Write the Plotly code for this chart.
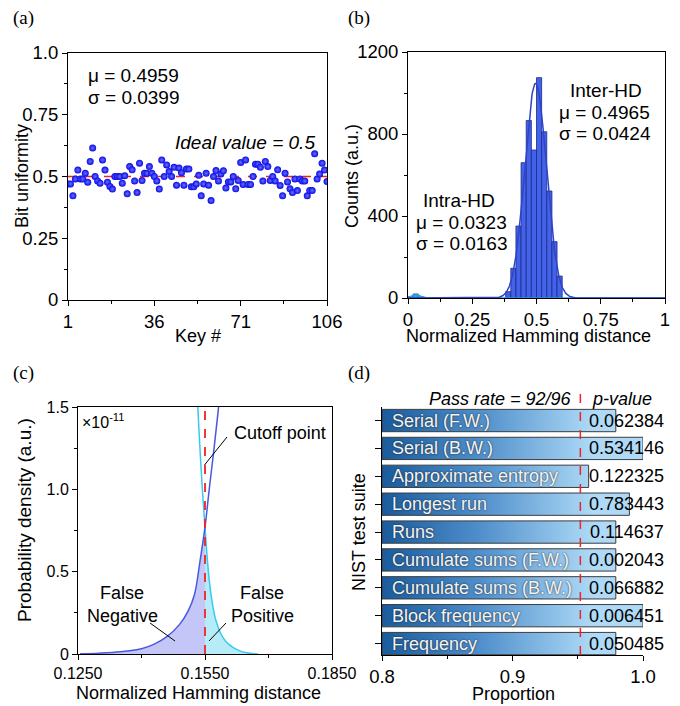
import numpy as np
import plotly.graph_objects as go

FONT = "Liberation Sans, Arial, sans-serif"
SERIF = "Liberation Serif, Times New Roman, serif"
W, H = 680, 706

# ---------------- (a) bit uniformity of each key ----------------
keys = list(range(1, 107))
bit_uniformity = [
    0.470, 0.470, 0.422, 0.490, 0.526, 0.490, 0.490, 0.513, 0.477, 0.561,
    0.615, 0.500, 0.482, 0.473, 0.567, 0.526, 0.477, 0.460, 0.449, 0.500,
    0.500, 0.500, 0.473, 0.503, 0.430, 0.540, 0.527, 0.482, 0.435, 0.554,
    0.484, 0.513, 0.513, 0.540, 0.513, 0.500, 0.482, 0.449, 0.567, 0.500,
    0.547, 0.520, 0.500, 0.537, 0.465, 0.534, 0.515, 0.465, 0.530, 0.530,
    0.458, 0.458, 0.470, 0.505, 0.422, 0.470, 0.513, 0.465, 0.403, 0.500,
    0.524, 0.482, 0.510, 0.523, 0.453, 0.478, 0.478, 0.500, 0.450, 0.484,
    0.557, 0.468, 0.567, 0.468, 0.468, 0.500, 0.550, 0.550, 0.537, 0.482,
    0.561, 0.540, 0.484, 0.500, 0.482, 0.527, 0.464, 0.422, 0.513, 0.478,
    0.450, 0.435, 0.490, 0.443, 0.490, 0.482, 0.482, 0.422, 0.443, 0.443,
    0.592, 0.490, 0.510, 0.554, 0.526, 0.480,
]
ideal_value = 0.5
bu_mean, bu_std = 0.4959, 0.0399
key_ticks = [1, 36, 71, 106]

# ---------------- (b) Hamming distance histograms ----------------
bin_width = 0.02
inter_bin_left = [0.38, 0.40, 0.42, 0.44, 0.46, 0.48, 0.50, 0.52, 0.54, 0.56, 0.58]
inter_counts = [31, 145, 351, 660, 866, 722, 1075, 811, 522, 275, 107]
intra_bin_left = [0.00, 0.02, 0.04]
intra_counts = [7, 20, 6]
inter_mu, inter_sigma = 0.4965, 0.0424
intra_mu, intra_sigma = 0.0323, 0.0163

# ---------------- (c) overlap of the two distributions ----------------
inter_tail_x = [0.1255, 0.1300, 0.1350, 0.1400, 0.1430, 0.1460, 0.1490, 0.1510,
                0.1525, 0.1538, 0.1550, 0.1560, 0.1571, 0.1583, 0.1592]
inter_tail_y = [0.002, 0.005, 0.013, 0.032, 0.060, 0.105, 0.180, 0.260,
                0.360, 0.560, 0.770, 1.000, 1.240, 1.520, 1.720]
intra_tail_x = [0.1528, 0.1533, 0.1540, 0.1545, 0.1550, 0.1555, 0.1560, 0.1566,
                0.1575, 0.1588, 0.1600, 0.1617, 0.1635, 0.1656, 0.1675]
intra_tail_y = [1.80, 1.50, 1.16, 0.95, 0.77, 0.59, 0.45, 0.33,
                0.21, 0.12, 0.075, 0.038, 0.016, 0.004, 0.0]
cutoff = 0.1550

# ---------------- (d) NIST SP800-22 results ----------------
nist_tests = ["Serial (F.W.)", "Serial (B.W.)", "Approximate entropy", "Longest run",
              "Runs", "Cumulate sums (F.W.)", "Cumulate sums (B.W.)",
              "Block frequency", "Frequency"]
nist_passed = [94, 96, 92, 95, 94, 94, 94, 96, 94]
n_sequences = 96
nist_pvalues = ["0.062384", "0.534146", "0.122325", "0.783443", "0.114637",
                "0.002043", "0.066882", "0.006451", "0.050485"]
pass_threshold = 0.952


def px(x):
    return x / W


def py(y):
    return 1 - y / H


fig = go.Figure()

# ---- (a)
fig.add_trace(go.Scatter(
    x=keys, y=bit_uniformity, mode="markers", xaxis="x", yaxis="y",
    marker=dict(size=7, color="#0a0ae6",
                gradient=dict(type="radial", color="#6a70ff"),
                line=dict(width=0)),
    showlegend=False, hoverinfo="skip"))

# ---- (b)
inter_centers = [b + bin_width / 2 for b in inter_bin_left]
intra_centers = [b + bin_width / 2 for b in intra_bin_left]
fig.add_trace(go.Bar(
    x=inter_centers, y=inter_counts, width=bin_width, xaxis="x2", yaxis="y2",
    marker=dict(color="#4262ea", line=dict(color="#1d2a86", width=0.8)),
    showlegend=False, hoverinfo="skip"))
fig.add_trace(go.Bar(
    x=intra_centers, y=intra_counts, width=bin_width, xaxis="x2", yaxis="y2",
    marker=dict(color="#2fa6dc", line=dict(color="#2a5fb0", width=0.8)),
    showlegend=False, hoverinfo="skip"))

hd = np.linspace(0, 1, 801)
inter_area = sum(inter_counts) * bin_width
intra_area = sum(intra_counts) * bin_width
inter_fit = inter_area / (inter_sigma * np.sqrt(2 * np.pi)) * np.exp(-0.5 * ((hd - inter_mu) / inter_sigma) ** 2)
intra_fit = intra_area / (intra_sigma * np.sqrt(2 * np.pi)) * np.exp(-0.5 * ((hd - intra_mu) / intra_sigma) ** 2)
fig.add_trace(go.Scatter(x=hd, y=intra_fit, mode="lines", xaxis="x2", yaxis="y2",
                         line=dict(color="#2aa0d8", width=1.5),
                         showlegend=False, hoverinfo="skip"))
fig.add_trace(go.Scatter(x=hd, y=inter_fit, mode="lines", xaxis="x2", yaxis="y2",
                         line=dict(color="#2f44c8", width=1.5),
                         showlegend=False, hoverinfo="skip"))

# ---- (c)
fn_x = [x for x in inter_tail_x if x <= cutoff]
fn_y = [y for x, y in zip(inter_tail_x, inter_tail_y) if x <= cutoff]
fp_x = [x for x in intra_tail_x if x >= cutoff]
fp_y = [y for x, y in zip(intra_tail_x, intra_tail_y) if x >= cutoff]
fig.add_trace(go.Scatter(x=fn_x, y=fn_y, mode="lines", xaxis="x3", yaxis="y3",
                         line=dict(width=0, shape="spline"), fill="tozeroy",
                         fillcolor="#c3c6f6", showlegend=False, hoverinfo="skip"))
fig.add_trace(go.Scatter(x=fp_x, y=fp_y, mode="lines", xaxis="x3", yaxis="y3",
                         line=dict(width=0, shape="spline"), fill="tozeroy",
                         fillcolor="#b6ebf8", showlegend=False, hoverinfo="skip"))
fig.add_trace(go.Scatter(x=intra_tail_x, y=intra_tail_y, mode="lines", xaxis="x3", yaxis="y3",
                         line=dict(color="#3cc8ee", width=1.5, shape="spline"),
                         showlegend=False, hoverinfo="skip"))
fig.add_trace(go.Scatter(x=inter_tail_x, y=inter_tail_y, mode="lines", xaxis="x3", yaxis="y3",
                         line=dict(color="#4a58e0", width=1.5, shape="spline"),
                         showlegend=False, hoverinfo="skip"))

# ---- (d) gradient bars
n_tests = len(nist_tests)
half = 0.40
for i, (name, passed) in enumerate(zip(nist_tests, nist_passed)):
    yc = n_tests - 1 - i
    prop = passed / n_sequences
    fig.add_trace(go.Scatter(
        x=[0.8, prop, prop, 0.8, 0.8],
        y=[yc - half, yc - half, yc + half, yc + half, yc - half],
        mode="lines", xaxis="x4", yaxis="y4", fill="toself",
        fillgradient=dict(type="horizontal", start=0.8, stop=0.962,
                          colorscale=[[0, "#1a5b9c"], [0.45, "#4d8dca"], [1, "#aedaf7"]]),
        line=dict(color="#3c3c3c", width=1),
        showlegend=False, hoverinfo="skip"))

tickfont = dict(family=FONT, size=18.5, color="black")


def axis(domain, anchor, **kw):
    d = dict(domain=domain, anchor=anchor, showline=True, linecolor="black", linewidth=1,
             ticks="outside", ticklen=5, tickwidth=1, tickcolor="black",
             showgrid=False, zeroline=False, tickfont=tickfont, mirror=True,
             automargin=False)
    d.update(kw)
    return d


def minor(tick0, dtick):
    return dict(ticks="outside", ticklen=3, tickwidth=1, tickcolor="black",
                tick0=tick0, dtick=dtick, showgrid=False)


fig.update_layout(
    width=W, height=H, margin=dict(l=0, r=0, t=0, b=0, autoexpand=False),
    paper_bgcolor="white", plot_bgcolor="white", barmode="overlay",
    font=dict(family=FONT, size=18, color="black"),
    xaxis=axis([px(68), px(327)], "y", range=[1, 106], tickvals=key_ticks,
               minor=minor(1, 17.5)),
    yaxis=axis([py(300), py(53)], "x", range=[0, 1],
               tickvals=[0, 0.25, 0.5, 0.75, 1.0],
               ticktext=["0", "0.25", "0.5", "0.75", "1.0"], minor=minor(0, 0.125)),
    xaxis2=axis([px(408), px(665)], "y2", range=[0, 1],
                tickvals=[0, 0.25, 0.5, 0.75, 1],
                ticktext=["0", "0.25", "0.5", "0.75", "1"], minor=minor(0, 0.125)),
    yaxis2=axis([py(298), py(52)], "x2", range=[0, 1200],
                tickvals=[0, 400, 800, 1200], minor=minor(0, 200)),
    xaxis3=axis([px(78), px(332)], "y3", range=[0.125, 0.185],
                tickvals=[0.125, 0.155, 0.185],
                ticktext=["0.1250", "0.1550", "0.1850"],
                tickfont=dict(family=FONT, size=16, color="black"),
                minor=minor(0.125, 0.015)),
    yaxis3=axis([py(654), py(407)], "x3", range=[0, 1.5],
                tickvals=[0, 0.5, 1.0, 1.5], ticktext=["0", "0.5", "1.0", "1.5"],
                tickfont=dict(family=FONT, size=16, color="black"),
                minor=minor(0, 0.25)),
    xaxis4=axis([px(382), px(643)], "y4", range=[0.8, 1.0],
                tickvals=[0.8, 0.9, 1.0], ticktext=["0.8", "0.9", "1.0"],
                minor=minor(0.8, 0.05), mirror=False),
    yaxis4=axis([py(655), py(406.6)], "x4", range=[-0.41, 8.5],
                tickvals=list(range(n_tests)), showticklabels=False,
                ticklen=6, mirror=False),
)

red = "#ee2424"
shapes = [
    dict(type="line", xref="x domain", yref="y", x0=0, x1=1, y0=ideal_value, y1=ideal_value,
         line=dict(color=red, width=1.5, dash="dash"), layer="below"),
    dict(type="line", xref="x3", yref="y3", x0=cutoff, x1=cutoff, y0=0, y1=1.5,
         line=dict(color=red, width=1.8, dash="dash")),
    dict(type="line", xref="x4", yref="paper", x0=pass_threshold, x1=pass_threshold,
         y0=py(655), y1=py(387),
         line=dict(color=red, width=1.5, dash="dash")),
    # pointer lines in (c)
    dict(type="line", xref="paper", yref="paper", x0=px(204.5), y0=py(465), x1=px(227), y1=py(437),
         line=dict(color="black", width=1)),
    dict(type="line", xref="paper", yref="paper", x0=px(150), y0=py(623), x1=px(175), y1=py(641),
         line=dict(color="black", width=1)),
    dict(type="line", xref="paper", yref="paper", x0=px(209), y0=py(641), x1=px(226), y1=py(623),
         line=dict(color="black", width=1)),
]
fig.update_layout(shapes=shapes)

ann = []


def text(x, y, s, size=18, xanchor="center", angle=0, italic=False, family=FONT, color="black",
         xref="paper", yref="paper", shadow=None):
    f = dict(family=family, size=size, color=color)
    if italic:
        f["style"] = "italic"
    if shadow:
        f["shadow"] = shadow
    ann.append(dict(x=x, y=y, xref=xref, yref=yref, text=s, showarrow=False,
                    xanchor=xanchor, yanchor="middle", textangle=angle, font=f))


# panel letters
text(px(23), py(18), "(a)", size=19, family=SERIF)
text(px(359), py(18), "(b)", size=19, family=SERIF)
text(px(23), py(373), "(c)", size=19, family=SERIF)
text(px(359), py(373), "(d)", size=19, family=SERIF)

# (a)
text(px(22), py(176), "Bit uniformity", angle=-90)
text(px(198), py(336), "Key #")
text(px(86), py(75), f"μ = {bu_mean:.4f}", size=19, xanchor="left")
text(px(86), py(97), f"σ = {bu_std:.4f}", size=19, xanchor="left")
text(px(245), py(142), f"Ideal value = {ideal_value}", size=19, italic=True)

# (b)
text(px(352), py(176), "Counts (a.u.)", angle=-90)
text(px(528), py(336), "Normalized Hamming distance")
text(px(606), py(90), "Inter-HD", size=19)
text(px(557), py(112), f"μ = {inter_mu:.4f}", size=19, xanchor="left")
text(px(557), py(133), f"σ = {inter_sigma:.4f}", size=19, xanchor="left")
text(px(459), py(200), "Intra-HD", size=19)
text(px(414), py(222), f"μ = {intra_mu:.4f}", size=19, xanchor="left")
text(px(414), py(243), f"σ = {intra_sigma:.4f}", size=19, xanchor="left")

# (c)
text(px(24), py(520), "Probability density (a.u.)", size=19, angle=-90)
text(px(198), py(693), "Normalized Hamming distance")
text(px(80), py(421), "×10<sup>-11</sup>", size=16, xanchor="left")
text(px(280), py(433), "Cutoff point")
text(px(122), py(593), "False")
text(px(122), py(616), "Negative")
text(px(262), py(593), "False")
text(px(262), py(616), "Positive")

# (d)
text(px(359), py(532), "NIST test suite", angle=-90)
text(px(513), py(694), "Proportion")
text(px(500), py(399), "Pass rate = 92/96", italic=True)
text(px(622), py(399), "p-value", italic=True)
for i, (name, pv) in enumerate(zip(nist_tests, nist_pvalues)):
    yc = n_tests - 1 - i
    text(0.8065, yc, name, xanchor="left", xref="x4", yref="y4", color="#f4f4f4",
         shadow="0px 0px 2px #1e1e1e")
    text(px(666), yc, pv, xanchor="right", yref="y4")

fig.update_layout(annotations=ann)
fig.write_html("out.html")
